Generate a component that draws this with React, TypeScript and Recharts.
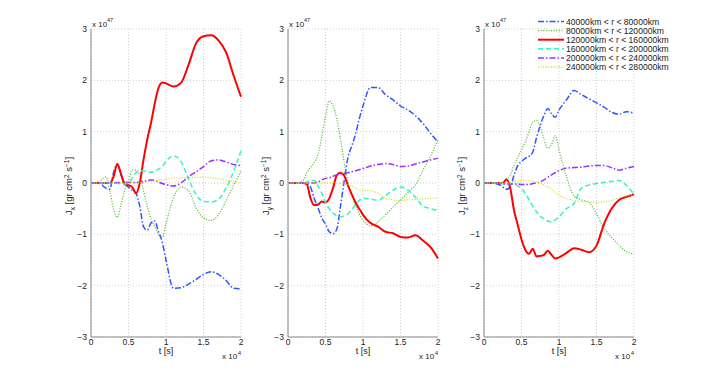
import React from 'react';
import { LineChart, Line, XAxis, YAxis, CartesianGrid, Label, Legend } from 'recharts';

// time in units of 1e4 s
const T = [0, 0.1, 0.2, 0.25, 0.3, 0.35, 0.4, 0.45, 0.5, 0.55, 0.6, 0.65, 0.7, 0.75, 0.8, 0.85, 0.9, 0.95, 1.0, 1.1, 1.2, 1.3, 1.4, 1.5, 1.6, 1.7, 1.8, 1.9, 2.0];

const RANGES = [
  '40000km < r < 80000km',
  '80000km < r < 120000km',
  '120000km < r < 160000km',
  '160000km < r < 200000km',
  '200000km < r < 240000km',
  '240000km < r < 280000km',
];

// Jx, units of 1e47
const jx40 = [0, 0, -0.1, -0.12, 0.2, 0.37, 0.15, 0.0, -0.08, -0.14, -0.2, -0.45, -0.85, -0.92, -0.78, -0.74, -0.95, -1.15, -1.5, -2.05, -2.04, -1.97, -1.88, -1.78, -1.73, -1.78, -1.9, -2.05, -2.06];
const jx80 = [0, 0.02, 0.12, -0.15, -0.5, -0.67, -0.42, -0.15, 0.05, 0.25, 0.25, 0.15, -0.15, -0.45, -0.7, -0.85, -1.0, -1.05, -0.8, -0.28, -0.08, -0.15, -0.48, -0.68, -0.73, -0.62, -0.35, -0.05, 0.24];
const jx120 = [0, 0, 0, 0, 0.12, 0.37, 0.18, -0.02, -0.04, -0.08, -0.2, 0.0, 0.45, 0.85, 1.17, 1.55, 1.85, 1.96, 1.94, 1.88, 1.95, 2.3, 2.72, 2.86, 2.88, 2.78, 2.55, 2.1, 1.68];
const jx160 = [0, 0, 0, 0, 0, 0, -0.02, -0.02, 0.0, 0.1, 0.2, 0.24, 0.24, 0.21, 0.21, 0.23, 0.27, 0.32, 0.42, 0.53, 0.42, 0.08, -0.22, -0.36, -0.37, -0.32, -0.1, 0.22, 0.63];
const jx200 = [0, 0, 0, 0, 0, 0.01, 0.01, 0.01, 0.01, 0.01, 0.01, 0.02, 0.03, 0.05, 0.06, 0.05, 0.02, -0.01, -0.03, -0.06, 0.0, 0.12, 0.22, 0.32, 0.43, 0.45, 0.41, 0.36, 0.34];
const jx240 = [0, 0, 0, 0, 0, 0, 0, 0, 0, 0, 0, 0.005, 0.01, 0.02, 0.03, 0.04, 0.05, 0.06, 0.07, 0.1, 0.1, 0.11, 0.11, 0.11, 0.1, 0.08, 0.06, 0.03, 0.0];

// Jy
const jy40 = [0, 0, 0, -0.02, -0.08, -0.3, -0.48, -0.68, -0.8, -0.95, -0.99, -0.9, -0.45, 0.05, 0.5, 0.72, 0.95, 1.25, 1.5, 1.86, 1.86, 1.72, 1.62, 1.5, 1.42, 1.31, 1.16, 0.97, 0.8];
const jy80 = [0, 0, 0.05, 0.2, 0.3, 0.4, 0.55, 0.9, 1.3, 1.6, 1.5, 1.25, 0.85, 0.4, 0.0, -0.25, -0.43, -0.6, -0.72, -0.84, -0.75, -0.62, -0.47, -0.33, -0.18, -0.03, 0.25, 0.52, 0.85];
const jy120 = [0, 0, 0, -0.02, -0.3, -0.43, -0.42, -0.36, -0.38, -0.3, -0.1, 0.15, 0.2, 0.14, -0.05, -0.22, -0.38, -0.5, -0.62, -0.78, -0.85, -0.95, -0.98, -1.05, -1.06, -1.02, -1.12, -1.25, -1.47];
const jy160 = [0, 0, 0, 0.02, 0.05, 0.05, -0.05, -0.2, -0.38, -0.5, -0.58, -0.64, -0.66, -0.64, -0.6, -0.52, -0.42, -0.34, -0.3, -0.31, -0.34, -0.24, -0.14, -0.08, -0.14, -0.28, -0.45, -0.5, -0.54];
const jy200 = [0, 0, 0, 0, 0, 0, 0.02, 0.06, 0.09, 0.1, 0.13, 0.16, 0.18, 0.19, 0.2, 0.22, 0.24, 0.26, 0.28, 0.33, 0.36, 0.38, 0.36, 0.32, 0.33, 0.37, 0.41, 0.45, 0.48];
const jy240 = [0, 0, 0, 0, 0, 0, 0, 0, 0, 0, 0, 0, -0.01, -0.02, -0.03, -0.06, -0.1, -0.13, -0.14, -0.15, -0.2, -0.3, -0.33, -0.34, -0.33, -0.32, -0.31, -0.3, -0.3];

// Jz
const jz40 = [0, 0, -0.03, -0.08, -0.12, -0.08, 0.15, 0.34, 0.42, 0.48, 0.52, 0.6, 0.88, 1.12, 1.32, 1.45, 1.35, 1.28, 1.42, 1.62, 1.8, 1.72, 1.64, 1.56, 1.48, 1.38, 1.34, 1.39, 1.36];
const jz80 = [0, 0, 0, 0.02, 0.08, 0.15, 0.35, 0.5, 0.65, 0.8, 1.0, 1.18, 1.22, 1.1, 0.85, 0.68, 0.75, 0.92, 0.65, 0.12, -0.25, -0.33, -0.38, -0.6, -0.88, -1.06, -1.21, -1.34, -1.38];
const jz120 = [0, 0, 0, 0, 0.07, -0.1, -0.53, -0.82, -1.1, -1.3, -1.38, -1.28, -1.43, -1.42, -1.4, -1.32, -1.4, -1.47, -1.45, -1.36, -1.27, -1.3, -1.35, -1.22, -0.8, -0.5, -0.33, -0.27, -0.22];
const jz160 = [0, 0, 0, -0.01, -0.02, -0.02, -0.03, -0.06, -0.1, -0.2, -0.32, -0.45, -0.56, -0.65, -0.7, -0.74, -0.76, -0.72, -0.66, -0.5, -0.4, -0.1, -0.04, -0.01, 0.01, 0.03, 0.05, -0.05, -0.22];
const jz200 = [0, 0, -0.01, -0.02, -0.02, -0.02, -0.02, -0.02, -0.03, -0.03, -0.03, -0.01, 0.0, 0.02, 0.06, 0.11, 0.16, 0.2, 0.24, 0.29, 0.3, 0.31, 0.33, 0.34, 0.34, 0.3, 0.25, 0.29, 0.32];
const jz240 = [0, 0, 0, 0, 0, 0, 0.02, 0.04, 0.05, 0.05, 0.04, 0.03, 0.02, 0.0, -0.04, -0.08, -0.13, -0.19, -0.24, -0.3, -0.34, -0.36, -0.37, -0.38, -0.37, -0.34, -0.29, -0.25, -0.22];

const X_TICKS = [0, 0.5, 1, 1.5, 2];
const Y_TICKS = [-3, -2, -1, 0, 1, 2, 3];

const STYLES = [
  { color: '#3355ff', dash: '6 2 1.5 2', width: 1.5 },
  { color: '#55bb33', dash: '1 1.6', width: 1.3 },
  { color: '#ff0000', dash: undefined, width: 2 },
  { color: '#33f5c0', dash: '5 3', width: 1.5 },
  { color: '#9933ff', dash: '6 2 1.5 2', width: 1.5 },
  { color: '#ccdd22', dash: '1 1.6', width: 1.3 },
];

const FONT = '"Liberation Sans", Arial, sans-serif';

const build = (series: number[][]) =>
  T.map((t, i) => {
    const row: Record<string, number> = { t };
    series.forEach((s, k) => (row['s' + k] = s[i]));
    return row;
  });

const fmt = (v: number) => (v < 0 ? '\u2212' + Math.abs(v) : String(v));

function LegendBox() {
  return (
    <svg width={160} height={60}>
      {STYLES.map((s, i) => (
        <g key={i}>
          <line x1={3} x2={29} y1={6.5 + 9.1 * i} y2={6.5 + 9.1 * i} stroke={s.color} strokeWidth={s.width} strokeDasharray={s.dash} />
          <text x={31} y={9.5 + 9.1 * i} fontSize={8.6} fontFamily={FONT} fill="#222">{RANGES[i]}</text>
        </g>
      ))}
    </svg>
  );
}

function Panel({ left, series, comp, legend }: { left: number; series: number[][]; comp: string; legend?: boolean }) {
  const data = build(series);
  const width = legend ? 701 - left : 200;
  return (
    <div style={{ position: 'absolute', left, top: 0 }}>
      <LineChart width={width} height={378} data={data} margin={{ top: 29, right: width - 195, bottom: 11, left: 0 }}>
        <CartesianGrid stroke="#cfcfcf" strokeDasharray="1 2" />
        <XAxis
          dataKey="t"
          type="number"
          domain={[0, 2]}
          ticks={X_TICKS}
          tickFormatter={fmt}
          height={30}
          stroke="#888"
          tickLine={false}
          tickSize={2}
          tickMargin={0}
          tick={{ fontSize: 8.5, fill: '#222', fontFamily: FONT }}
        >
          <Label
            content={({ viewBox }: any) => {
              const { x, y, width: w } = viewBox;
              return (
                <g fontFamily={FONT} fill="#222">
                  <text x={x + w / 2} y={y + 17} fontSize={9} textAnchor="middle">t [s]</text>
                  <text x={x + w - 19} y={y + 22} fontSize={8}>x 10</text>
                  <text x={x + w - 3} y={y + 18} fontSize={5.5}>4</text>
                </g>
              );
            }}
          />
        </XAxis>
        <YAxis
          type="number"
          domain={[-3, 3]}
          ticks={Y_TICKS}
          tickFormatter={fmt}
          width={45}
          stroke="#888"
          tickLine={false}
          tickSize={3}
          tickMargin={1}
          interval={0}
          tick={{ fontSize: 8.5, fill: '#222', fontFamily: FONT }}
        >
          <Label
            content={({ viewBox }: any) => {
              const { x, y, width: w } = viewBox;
              const ax = x + w;
              const cy = 186;
              return (
                <g fontFamily={FONT} fill="#222">
                  <text x={ax + 1} y={y - 2} fontSize={8}>x 10</text>
                  <text x={ax + 16} y={y - 7} fontSize={5.5}>47</text>
                  <text transform={`translate(${ax - 19},${cy}) rotate(-90)`} textAnchor="middle" fontSize={9.5}>
                    J<tspan fontSize={6.5} dy={2.5}>{comp}</tspan>
                    <tspan dy={-2.5}> [gr cm</tspan>
                    <tspan fontSize={6.5} dy={-3.5}>2</tspan>
                    <tspan dy={3.5}> s</tspan>
                    <tspan fontSize={6.5} dy={-3.5}>{'\u22121'}</tspan>
                    <tspan dy={3.5}>]</tspan>
                  </text>
                </g>
              );
            }}
          />
        </YAxis>
        {series.map((_, k) => (
          <Line
            key={k}
            dataKey={'s' + k}
            name={RANGES[k]}
            type="monotone"
            stroke={STYLES[k].color}
            strokeWidth={STYLES[k].width}
            strokeDasharray={STYLES[k].dash}
            dot={false}
            isAnimationActive={false}
          />
        ))}
        {legend && (
          <Legend
            layout="vertical"
            align="center"
            verticalAlign="middle"
            content={() => <LegendBox />}
            wrapperStyle={{ left: 535 - left, top: 15, width: 160 }}
          />
        )}
      </LineChart>
    </div>
  );
}

export default function App() {
  return (
    <div style={{ position: 'absolute', left: 0, top: 0, width: 701, height: 378, background: '#fff' }}>
      <Panel left={46} comp="x" series={[jx40, jx80, jx120, jx160, jx200, jx240]} />
      <Panel left={243} comp="y" series={[jy40, jy80, jy120, jy160, jy200, jy240]} />
      <Panel left={439} comp="z" series={[jz40, jz80, jz120, jz160, jz200, jz240]} legend />
    </div>
  );
}
